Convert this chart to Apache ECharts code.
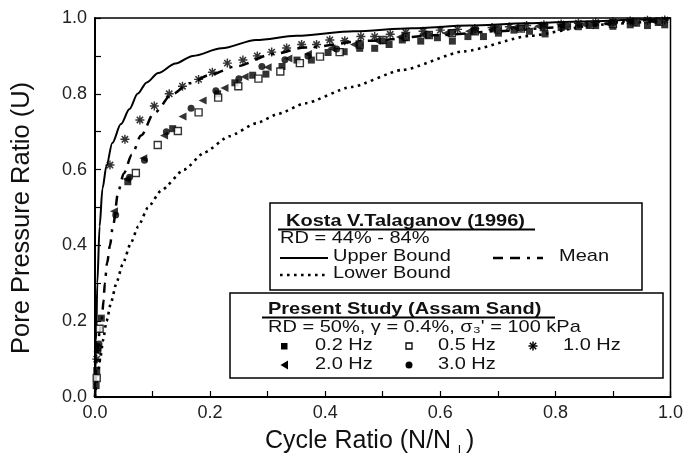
<!DOCTYPE html>
<html><head><meta charset="utf-8">
<script src="https://cdn.jsdelivr.net/npm/echarts@6/dist/echarts.min.js"></script>
<style>html,body{margin:0;padding:0;background:#fff}#c{width:686px;height:453px}</style>
</head><body><div id="c"></div>
<script>
// ---- data (x = N/NL, y = U) ----
const upperBound = [[0,0],[0.002,0.15],[0.004,0.3],[0.008,0.45],[0.013,0.55],[0.02,0.61],[0.03,0.67],[0.045,0.72],[0.06,0.76],[0.074,0.8],[0.09,0.83],[0.11,0.855],[0.14,0.88],[0.17,0.9],[0.22,0.92],[0.28,0.942],[0.35,0.953],[0.45,0.965],[0.55,0.973],[0.65,0.98],[0.75,0.986],[0.85,0.991],[0.95,0.996],[1,1]];
const meanCurve = [[0,0],[0.003,0.1],[0.008,0.17],[0.012,0.21],[0.015,0.256],[0.017,0.3],[0.021,0.353],[0.026,0.4],[0.031,0.45],[0.041,0.546],[0.05,0.59],[0.064,0.639],[0.08,0.69],[0.103,0.75],[0.135,0.8],[0.164,0.828],[0.2,0.85],[0.244,0.872],[0.31,0.905],[0.365,0.922],[0.474,0.94],[0.6,0.955],[0.7,0.965],[0.8,0.975],[0.9,0.985],[1,0.995]];
const lowerBound = [[0,0],[0.004,0.05],[0.009,0.1],[0.014,0.15],[0.02,0.2],[0.028,0.25],[0.037,0.3],[0.048,0.35],[0.062,0.405],[0.075,0.45],[0.092,0.5],[0.115,0.545],[0.155,0.6],[0.19,0.645],[0.233,0.688],[0.28,0.722],[0.32,0.748],[0.365,0.775],[0.445,0.818],[0.534,0.863],[0.641,0.912],[0.756,0.953],[0.86,0.979],[0.93,0.992],[1,1]];
const hz02 = [[0.002,0.03],[0.003,0.07],[0.005,0.13],[0.011,0.208],[0.057,0.568],[0.135,0.708],[0.213,0.8],[0.243,0.829],[0.274,0.849],[0.297,0.852],[0.325,0.872],[0.351,0.889],[0.376,0.889],[0.405,0.909],[0.433,0.911],[0.46,0.92],[0.486,0.92],[0.511,0.93],[0.534,0.942],[0.566,0.939],[0.595,0.948],[0.621,0.939],[0.648,0.951],[0.675,0.951],[0.701,0.96],[0.728,0.968],[0.755,0.965],[0.782,0.958],[0.81,0.975],[0.84,0.977],[0.87,0.98],[0.9,0.978],[0.93,0.982],[0.96,0.98],[0.99,0.982]];
const hz05 = [[0.003,0.05],[0.008,0.18],[0.071,0.591],[0.109,0.665],[0.144,0.702],[0.18,0.751],[0.214,0.79],[0.249,0.82],[0.284,0.84],[0.322,0.859],[0.356,0.881],[0.391,0.898],[0.425,0.91],[0.46,0.93],[0.5,0.942],[0.54,0.95],[0.58,0.955],[0.62,0.96],[0.66,0.965],[0.7,0.97],[0.74,0.972],[0.78,0.976],[0.82,0.98],[0.86,0.982],[0.9,0.985],[0.94,0.988],[0.98,0.99]];
const hz10 = [[0.003,0.1],[0.026,0.612],[0.052,0.68],[0.078,0.731],[0.103,0.768],[0.129,0.8],[0.152,0.82],[0.18,0.838],[0.204,0.857],[0.23,0.881],[0.257,0.889],[0.282,0.9],[0.307,0.91],[0.333,0.921],[0.359,0.93],[0.385,0.93],[0.408,0.942],[0.434,0.94],[0.462,0.951],[0.486,0.951],[0.513,0.957],[0.54,0.962],[0.57,0.965],[0.6,0.968],[0.63,0.97],[0.66,0.972],[0.69,0.975],[0.72,0.977],[0.75,0.98],[0.78,0.982],[0.81,0.984],[0.84,0.986],[0.87,0.988],[0.9,0.99],[0.93,0.992],[0.96,0.994],[0.99,0.995]];
const hz20 = [[0.004,0.12],[0.033,0.49],[0.055,0.575],[0.084,0.63],[0.12,0.69],[0.152,0.74],[0.187,0.782],[0.225,0.815],[0.26,0.845],[0.3,0.87],[0.336,0.893],[0.37,0.905],[0.411,0.92],[0.45,0.93],[0.49,0.94],[0.53,0.95],[0.57,0.955],[0.61,0.96],[0.65,0.965],[0.69,0.97],[0.73,0.975],[0.77,0.978],[0.81,0.98],[0.85,0.983],[0.89,0.986],[0.93,0.99],[0.97,0.992]];
const hz30 = [[0.007,0.14],[0.036,0.48],[0.06,0.58],[0.086,0.625],[0.124,0.7],[0.167,0.762],[0.21,0.808],[0.25,0.84],[0.29,0.872],[0.33,0.89],[0.37,0.9],[0.42,0.918],[0.46,0.93],[0.5,0.94],[0.54,0.948],[0.58,0.955],[0.62,0.962],[0.66,0.966],[0.7,0.97],[0.74,0.973],[0.78,0.976],[0.82,0.98],[0.86,0.983],[0.9,0.986],[0.94,0.988],[0.98,0.99]];
const axisMin = 0, axisMax = 1, axisStep = 0.2;

const FONT = '"Liberation Sans", Arial, sans-serif';
const ASTER = 'path://M-0.8,-5L0.8,-5L0.8,5L-0.8,5ZM-5,-0.8L5,-0.8L5,0.8L-5,0.8ZM-4.1,-2.9L-2.9,-4.1L4.1,2.9L2.9,4.1ZM-4.1,2.9L2.9,-4.1L4.1,-2.9L-2.9,4.1Z';

function txt(x, y, text, opts) {
  opts = opts || {};
  return {type:'text', x:x, y:y, scaleY: opts.sy || 0.8, z: 100,
    style:{text:text, fill:'#111', fontSize: opts.fs || 20, fontWeight: opts.bold ? 'bold' : 'normal',
      fontFamily: FONT, align: opts.align || 'left', verticalAlign:'middle'}};
}
function ln(x1,y1,x2,y2,w,dash){
  return {type:'line', z:100, shape:{x1:x1,y1:y1,x2:x2,y2:y2}, style:{stroke:'#000', lineWidth:w||1.5, lineDash: dash||null}};
}

const chart = echarts.init(document.getElementById('c'), null, {renderer:'canvas'});
const axisCommon = {
  type:'value', min:axisMin, max:axisMax, interval:axisStep,
  axisLine:{show:true, lineStyle:{color:'#000', width:2}},
  axisTick:{show:true, inside:true, length:6, lineStyle:{color:'#000', width:1.2}},
  minorTick:{show:true, splitNumber:2, length:6, lineStyle:{color:'#000', width:1.2}},
  splitLine:{show:false},
  axisLabel:{color:'#222', fontSize:18, fontFamily:FONT, formatter:v=>v.toFixed(1)}
};
chart.setOption({
  animation:false,
  backgroundColor:'#fff',
  grid:{left:95, right:11, top:18, bottom:56, show:true, borderColor:'#000', borderWidth:1.5},
  xAxis:Object.assign({}, axisCommon, {axisLabel:Object.assign({}, axisCommon.axisLabel, {margin:7})}),
  yAxis:Object.assign({}, axisCommon, {axisLabel:Object.assign({}, axisCommon.axisLabel, {margin:8})}),
  series:[
    {type:'line', data:upperBound, showSymbol:false, smooth:0.3, smoothMonotone:'x', lineStyle:{color:'#000', width:2}, z:3},
    {type:'line', data:meanCurve, showSymbol:false, smooth:0.3, smoothMonotone:'x', lineStyle:{color:'#000', width:2.5, type:[10,7,10,7,3,7]}, z:3},
    {type:'line', data:lowerBound, showSymbol:false, smooth:0.2, smoothMonotone:'x', lineStyle:{color:'#000', width:2.6, type:[2.6,4.4]}, z:3},
    {type:'scatter', data:hz02, symbol:'rect', symbolSize:7, itemStyle:{color:'#000'}, z:4},
    {type:'scatter', data:hz05, symbol:'rect', symbolSize:7, itemStyle:{color:'#fff', borderColor:'#000', borderWidth:1.4}, z:4},
    {type:'scatter', data:hz10, symbol:ASTER, symbolSize:9, itemStyle:{color:'#000'}, z:4},
    {type:'scatter', data:hz20, symbol:'triangle', symbolRotate:90, symbolSize:8, itemStyle:{color:'#000'}, z:4},
    {type:'scatter', data:hz30, symbol:'circle', symbolSize:7, itemStyle:{color:'#000'}, z:4}
  ],
  graphic:{elements:[
    // axis titles
    {type:'text', x:22, y:218, rotation:Math.PI/2, style:{text:'Pore Pressure Ratio (U)', fill:'#111', fontSize:25.5, fontFamily:FONT, align:'center', verticalAlign:'middle'}},
    {type:'text', x:265, y:441, style:{text:'Cycle Ratio (N/N', fill:'#111', fontSize:25, fontFamily:FONT, align:'left', verticalAlign:'middle'}},
    {type:'text', x:458, y:450, style:{text:'l', fill:'#111', fontSize:13, fontFamily:FONT, align:'left', verticalAlign:'middle'}},
    {type:'text', x:466, y:441, style:{text:')', fill:'#111', fontSize:25, fontFamily:FONT, align:'left', verticalAlign:'middle'}},
    // legend box 1
    {type:'rect', z:90, shape:{x:270, y:203, width:372, height:87}, style:{fill:'#fff', stroke:'#000', lineWidth:1.5}},
    txt(286, 221.5, 'Kosta V.Talaganov (1996)', {bold:true}),
    ln(278, 229.5, 535, 229.5, 1.8),
    txt(280, 239, 'RD = 44% - 84%'),
    ln(280, 258, 328, 258, 2),
    txt(333, 257, 'Upper Bound'),
    ln(493, 258, 543, 258, 2.5, [10,7,10,7,3,7]),
    txt(559, 257, 'Mean'),
    ln(280, 275, 328, 275, 2.6, [2.6,4.4]),
    txt(333, 274, 'Lower Bound'),
    // legend box 2
    {type:'rect', z:90, shape:{x:230, y:293, width:433, height:85}, style:{fill:'#fff', stroke:'#000', lineWidth:1.5}},
    txt(268, 309.5, 'Present Study (Assam Sand)', {bold:true}),
    ln(262, 317.5, 555, 317.5, 1.8),
    txt(268, 327.5, 'RD = 50%, \u03b3 = 0.4%, \u03c3\u2083\' = 100 kPa'),
    {type:'rect', z:100, shape:{x:281, y:343, width:6.5, height:6.5}, style:{fill:'#000'}},
    txt(315, 346, '0.2 Hz'),
    {type:'rect', z:100, shape:{x:406, y:343, width:6, height:6}, style:{fill:'#fff', stroke:'#000', lineWidth:1.3}},
    txt(438, 346, '0.5 Hz'),
    ln(528.5, 346, 537.5, 346, 1.5), ln(533, 341.5, 533, 350.5, 1.5), ln(529.8, 342.8, 536.2, 349.2, 1.5), ln(529.8, 349.2, 536.2, 342.8, 1.5),
    txt(563, 346, '1.0 Hz'),
    {type:'polygon', z:100, shape:{points:[[280.5,365],[288,360.5],[288,369.5]]}, style:{fill:'#000'}},
    txt(315, 365, '2.0 Hz'),
    {type:'circle', z:100, shape:{cx:409, cy:365, r:3.5}, style:{fill:'#000'}},
    txt(438, 365, '3.0 Hz')
  ]}
});
</script></body></html>
